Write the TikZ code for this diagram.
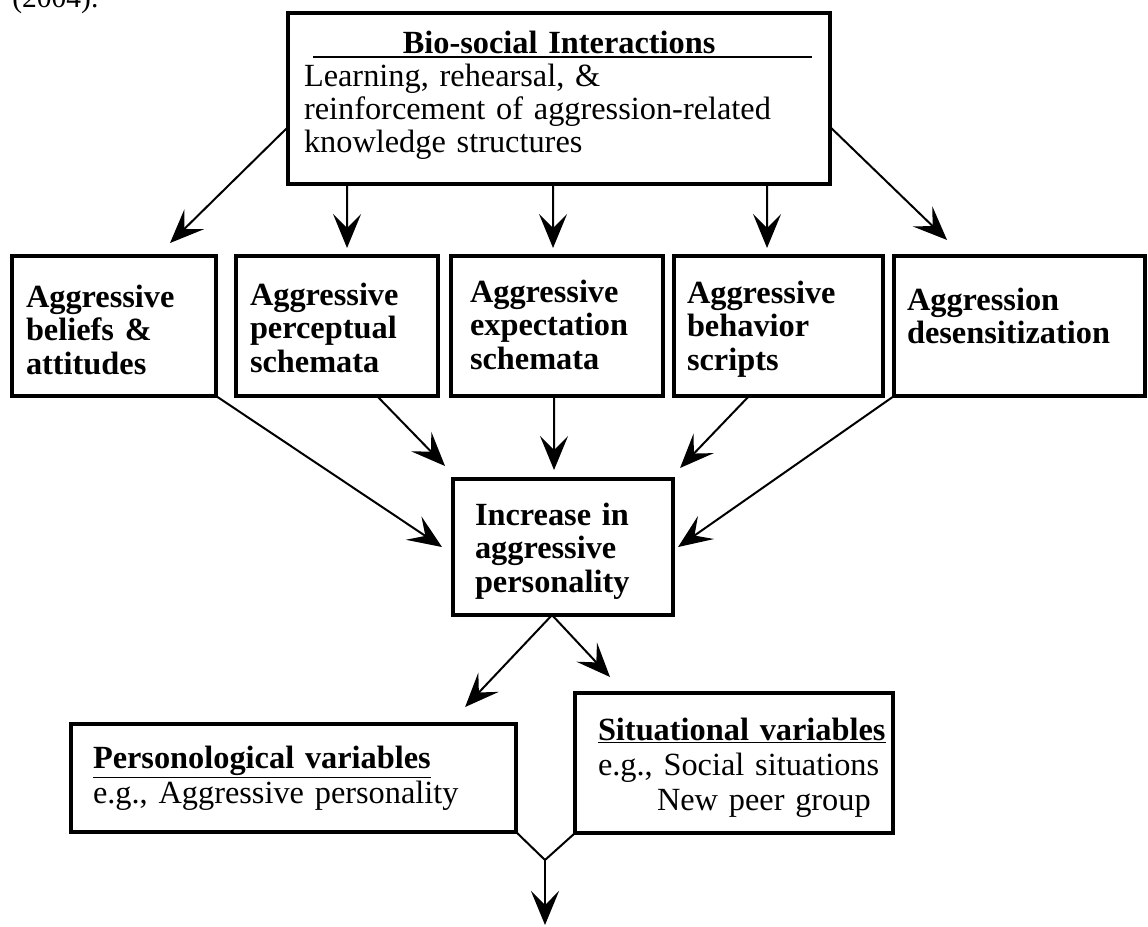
\documentclass[tikz,border=0pt]{standalone}
\usepackage{fontspec}
\setmainfont{Liberation Serif}
\usetikzlibrary{arrows.meta,calc}

\begin{document}
\begin{tikzpicture}[x=0.025cm,y=-0.025cm,
  arr/.style={-{Stealth[length=0.85cm,width=0.7cm,inset=0.35cm]},line width=0.05cm},
  box node/.style={draw,rectangle,line width=0.1cm,outer sep=0pt,inner ysep=0pt,
    anchor=north west,align=left,font=\fontsize{23}{24}\selectfont},
  row node/.style={box node,font=\fontsize{23}{24}\selectfont\bfseries}]

  \useasboundingbox (0,0) rectangle (1148,926);

  \node[anchor=base west,inner sep=0pt,font=\fontsize{21}{22}\selectfont] (cap) at (12,8) {(2004).};

  \node[box node,font=\fontsize{23}{23.5}\selectfont,inner xsep=0.4cm,text width=12.75cm,
    text height=1cm,text depth=3.275cm] (bio) at (288,13)
    {\makebox[\linewidth]{\bfseries Bio-social Interactions}\\
     Learning, rehearsal, \&\\
     reinforcement of aggression-related\\
     knowledge structures};
  \draw[line width=0.05cm] ($(bio.north west)+(25,44)$) -- ($(bio.north east)+(-18,44)$);

  \node[row node,inner xsep=0.35cm,text width=4.4cm,text height=1.275cm,text depth=2.225cm] (b1) at (12,256)
    {Aggressive\\beliefs \&\\attitudes};
  \node[row node,inner xsep=0.35cm,text width=4.35cm,text height=1.225cm,text depth=2.275cm] (b2) at (236,256)
    {Aggressive\\perceptual\\schemata};
  \node[row node,inner xsep=0.475cm,text width=4.35cm,text height=1.15cm,text depth=2.35cm] (b3) at (451,256)
    {Aggressive\\expectation\\schemata};
  \node[row node,inner xsep=0.325cm,text width=4.575cm,text height=1.175cm,text depth=2.325cm] (b4) at (674,256)
    {Aggressive\\behavior\\scripts};
  \node[row node,inner xsep=0.325cm,text width=5.625cm,text height=1.35cm,text depth=2.15cm] (b5) at (894,256)
    {Aggression\\desensitization};

  \node[row node,inner xsep=0.55cm,text width=4.4cm,text height=1.15cm,text depth=2.25cm] (inc) at (453,479)
    {Increase in\\aggressive\\personality};

  \node[box node,font=\fontsize{23}{25}\selectfont,inner xsep=0.55cm,text width=10.025cm,
    text height=1.1cm,text depth=1.6cm] (pers) at (71,724)
    {\underline{\textbf{Personological variables}}\\e.g., Aggressive personality};
  \node[box node,font=\fontsize{23}{25}\selectfont,inner xsep=0.15cm,text width=7.65cm,
    text height=1.175cm,text depth=2.325cm] (sit) at (575,693)
    {\hspace*{0.425cm}\underline{\textbf{Situational variables}}\\
     \hspace*{0.425cm}e.g., Social situations\\
     \hspace*{1.9cm}New peer group};

  \coordinate (m) at (545,860);
  \coordinate (out) at (545,925);

  % from the top box
  \draw[arr] (bio.186) -- ($(b1.north)+(56,-13)$);
  \draw[arr] ($(bio.south)+(-212,0)$) -- ($(b2.north)+(10,-8)$);
  \draw[arr] ($(bio.south)+(-6,0)$) -- ($(b3.north)+(-4,-8)$);
  \draw[arr] ($(bio.south)+(208,0)$) -- ($(b4.north)+(-11.5,-8)$);
  \draw[arr] (bio.-6) -- ($(b5.north)+(-72.5,-16)$);

  % into the personality box
  \draw[arr] (b1.south east) -- ($(inc.west)+(-11,0)$);
  \draw[arr] ($(b2.south)+(40,0)$) -- ($(inc.north west)+(-8,-13)$);
  \draw[arr] ($(b3.south)+(-3,0)$) -- ($(inc.north)+(-9,-9)$);
  \draw[arr] ($(b4.south)+(-29.5,0)$) -- ($(inc.north east)+(7,-11)$);
  \draw[arr] (b5.south west) -- ($(inc.east)+(5,0)$);

  \draw[arr] ($(inc.south)+(-11,0)$) -- ($(pers.north east)+(-51,-17)$);
  \draw[arr] ($(inc.south)+(-11,0)$) -- ($(sit.north west)+(35,-16)$);

  \draw[line width=0.05cm] (pers.south east) -- (m) -- (sit.south west);
  \draw[arr] (m) -- (out);

\end{tikzpicture}
\end{document}
